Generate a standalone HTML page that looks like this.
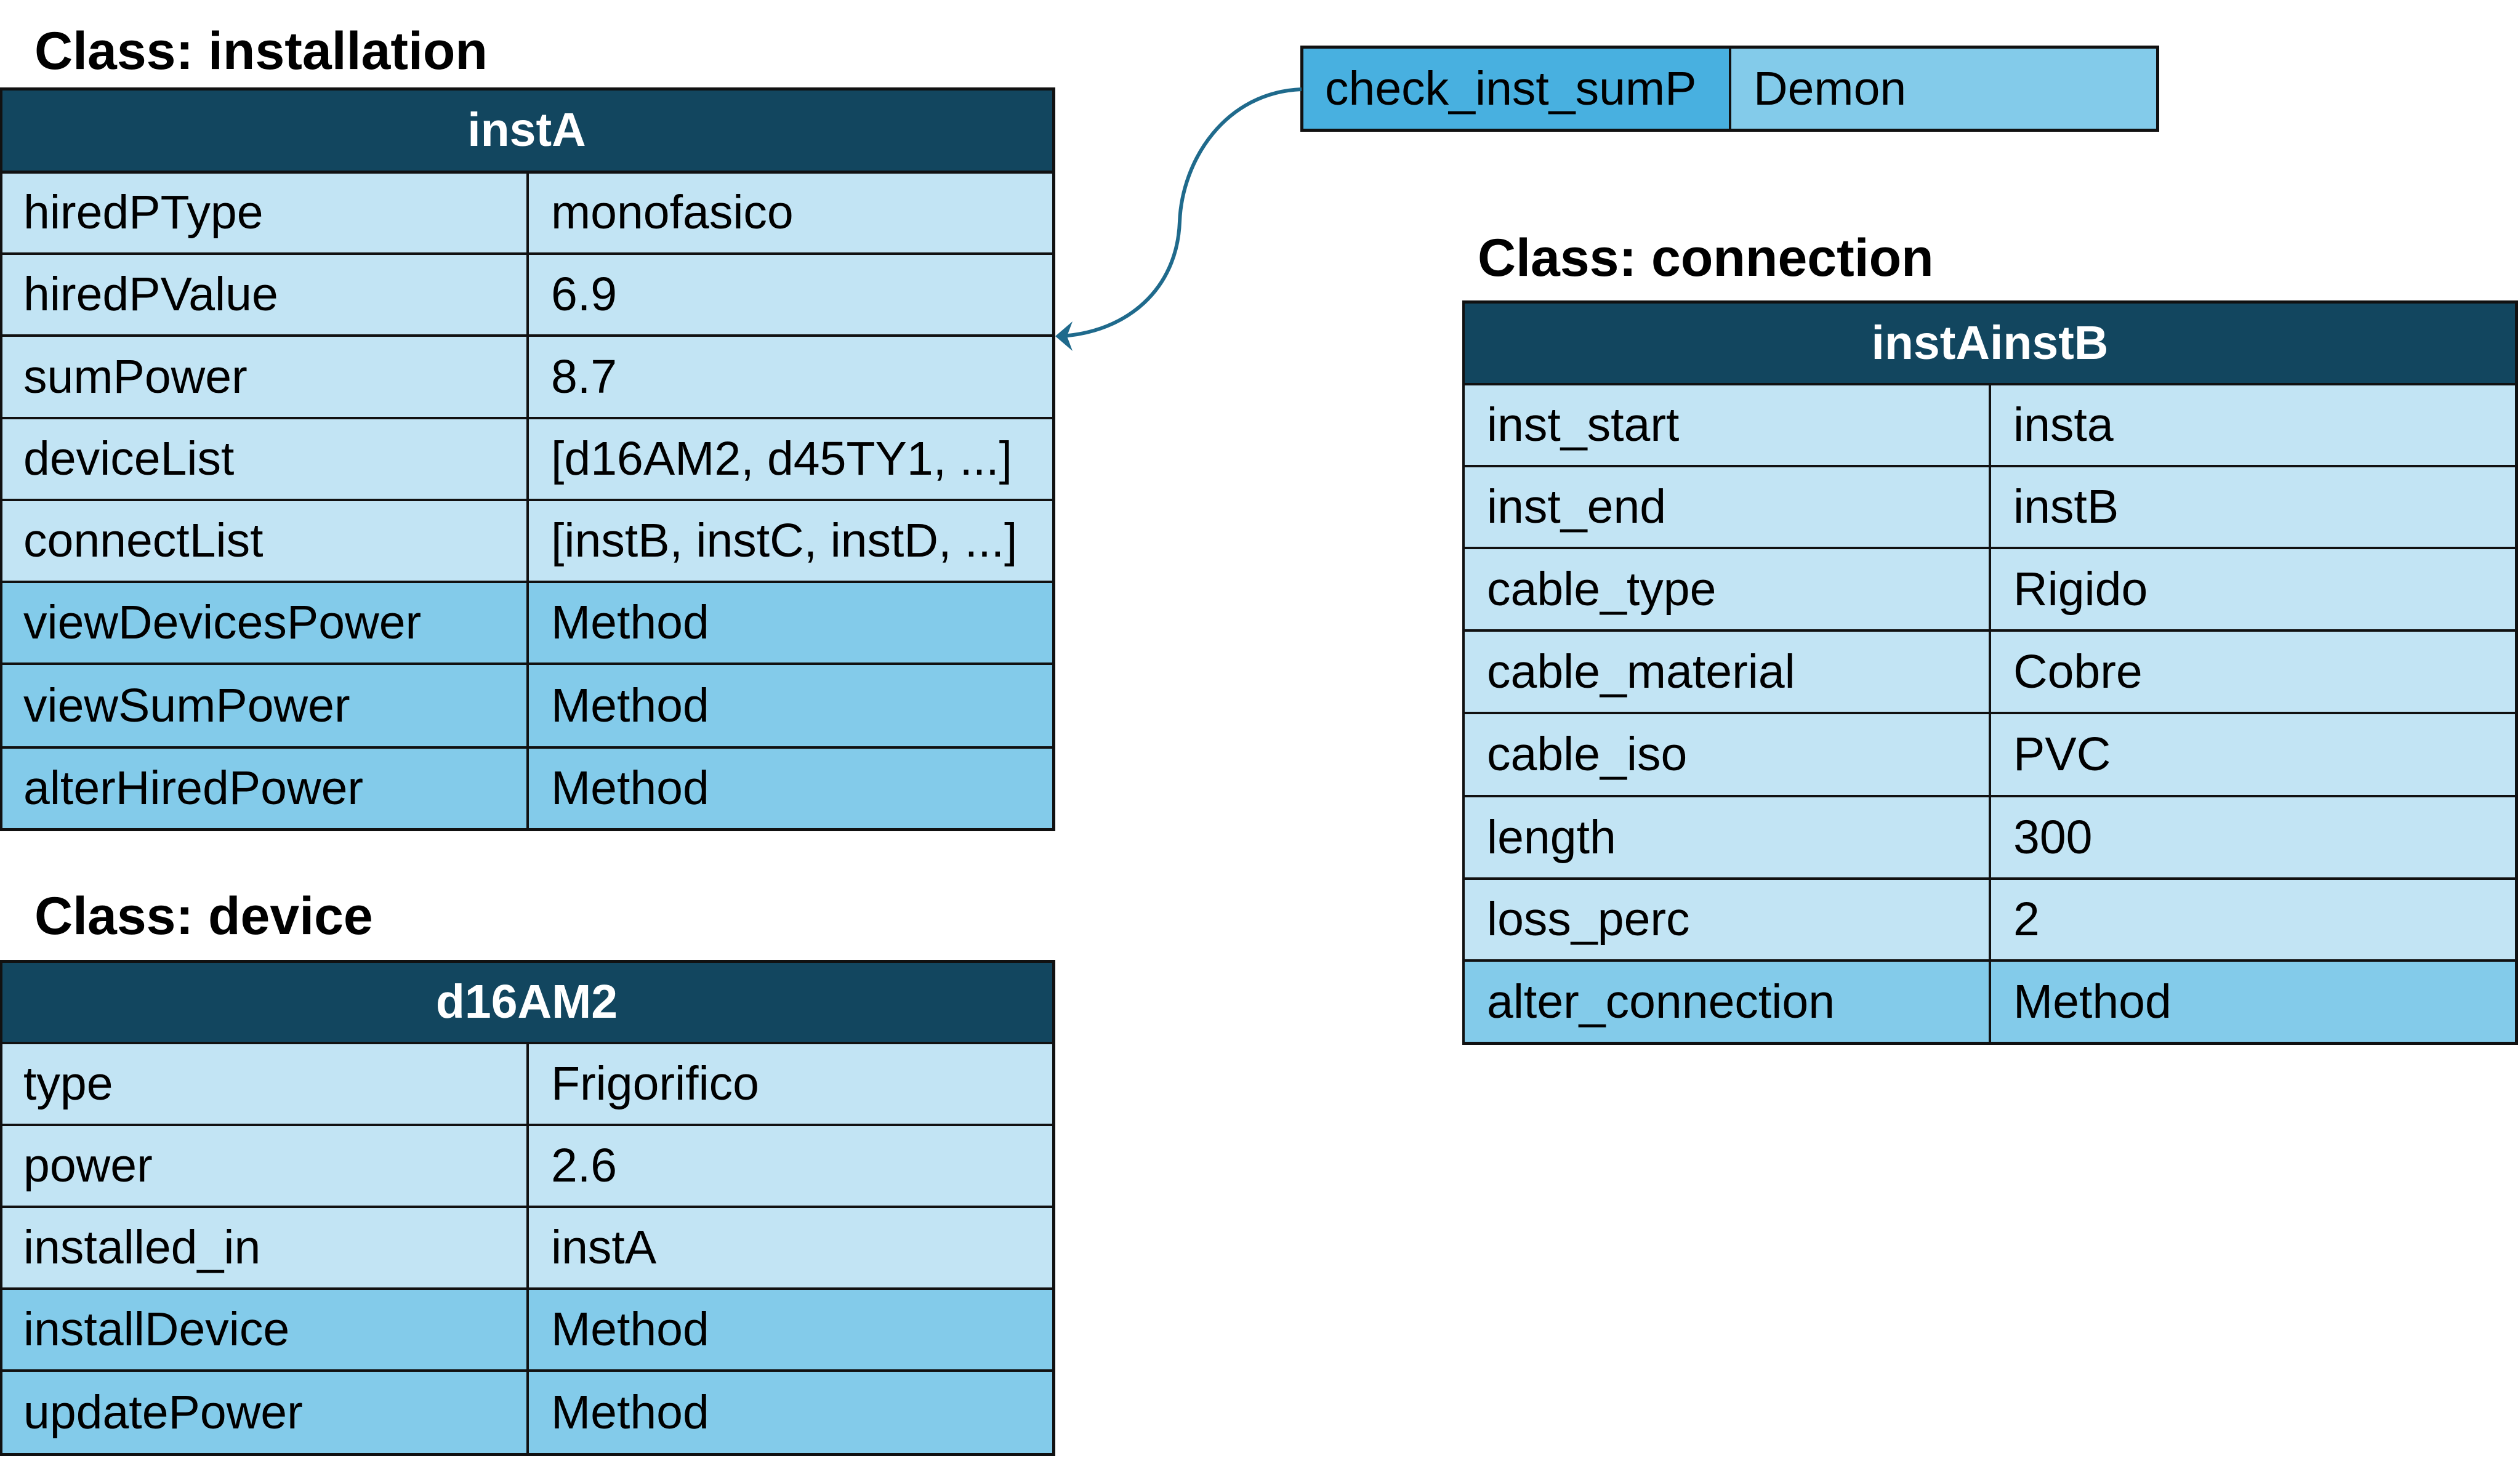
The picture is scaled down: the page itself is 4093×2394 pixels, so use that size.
<!DOCTYPE html>
<html><head><meta charset="utf-8"><style>
html,body{margin:0;width:4093px;height:2394px;overflow:hidden}
body{background:#fff;position:relative;font-family:"Liberation Sans",sans-serif}
div{position:absolute;box-sizing:border-box}
.t{font-weight:bold;font-size:86px;line-height:86px;color:#000;white-space:nowrap}
.c{font-size:77px;color:#000;white-space:nowrap;display:flex;align-items:center;padding-left:38px}
.h{font-size:77px;font-weight:bold;color:#fff;display:flex;align-items:center;justify-content:center;background:#12465f}
.l{background:#c2e4f4}.m{background:#83cbea}.k{background:#48b0e0}
.ln{background:#111}
</style></head><body>
<div class="t" style="left:56px;top:40px">Class: installation</div>
<div class="t" style="left:56px;top:1445px">Class: device</div>
<div class="t" style="left:2400px;top:376px">Class: connection</div>

<!-- installation -->
<div class="h" style="left:0;top:144px;width:1711px;height:135px">instA</div>
<div class="c l" style="left:0;top:279px;width:857px;height:133px">hiredPType</div><div class="c l" style="left:857px;top:279px;width:854px;height:133px">monofasico</div>
<div class="c l" style="left:0;top:412px;width:857px;height:133px">hiredPValue</div><div class="c l" style="left:857px;top:412px;width:854px;height:133px">6.9</div>
<div class="c l" style="left:0;top:545px;width:857px;height:134px">sumPower</div><div class="c l" style="left:857px;top:545px;width:854px;height:134px">8.7</div>
<div class="c l" style="left:0;top:679px;width:857px;height:133px">deviceList</div><div class="c l" style="left:857px;top:679px;width:854px;height:133px">[d16AM2, d45TY1, ...]</div>
<div class="c l" style="left:0;top:812px;width:857px;height:133px">connectList</div><div class="c l" style="left:857px;top:812px;width:854px;height:133px">[instB, instC, instD, ...]</div>
<div class="c m" style="left:0;top:945px;width:857px;height:133px">viewDevicesPower</div><div class="c m" style="left:857px;top:945px;width:854px;height:133px">Method</div>
<div class="c m" style="left:0;top:1078px;width:857px;height:136px">viewSumPower</div><div class="c m" style="left:857px;top:1078px;width:854px;height:136px">Method</div>
<div class="c m" style="left:0;top:1214px;width:857px;height:133px">alterHiredPower</div><div class="c m" style="left:857px;top:1214px;width:854px;height:133px">Method</div>
<div class="ln" style="left:0;top:142px;width:1714px;height:5px"></div>
<div class="ln" style="left:0;top:277px;width:1714px;height:5px"></div>
<div class="ln" style="left:0;top:410px;width:1714px;height:4px"></div>
<div class="ln" style="left:0;top:543px;width:1714px;height:4px"></div>
<div class="ln" style="left:0;top:677px;width:1714px;height:4px"></div>
<div class="ln" style="left:0;top:810px;width:1714px;height:4px"></div>
<div class="ln" style="left:0;top:943px;width:1714px;height:4px"></div>
<div class="ln" style="left:0;top:1076px;width:1714px;height:4px"></div>
<div class="ln" style="left:0;top:1212px;width:1714px;height:4px"></div>
<div class="ln" style="left:0;top:1345px;width:1714px;height:5px"></div>
<div class="ln" style="left:0;top:142px;width:4px;height:1208px"></div>
<div class="ln" style="left:1709px;top:142px;width:5px;height:1208px"></div>
<div class="ln" style="left:855px;top:279px;width:4px;height:1068px"></div>

<!-- device -->
<div class="h" style="left:0;top:1561px;width:1711px;height:133px">d16AM2</div>
<div class="c l" style="left:0;top:1694px;width:857px;height:133px">type</div><div class="c l" style="left:857px;top:1694px;width:854px;height:133px">Frigorifico</div>
<div class="c l" style="left:0;top:1827px;width:857px;height:133px">power</div><div class="c l" style="left:857px;top:1827px;width:854px;height:133px">2.6</div>
<div class="c l" style="left:0;top:1960px;width:857px;height:133px">installed_in</div><div class="c l" style="left:857px;top:1960px;width:854px;height:133px">instA</div>
<div class="c m" style="left:0;top:2093px;width:857px;height:133px">installDevice</div><div class="c m" style="left:857px;top:2093px;width:854px;height:133px">Method</div>
<div class="c m" style="left:0;top:2226px;width:857px;height:136px">updatePower</div><div class="c m" style="left:857px;top:2226px;width:854px;height:136px">Method</div>
<div class="ln" style="left:0;top:1559px;width:1714px;height:5px"></div>
<div class="ln" style="left:0;top:1692px;width:1714px;height:4px"></div>
<div class="ln" style="left:0;top:1825px;width:1714px;height:4px"></div>
<div class="ln" style="left:0;top:1958px;width:1714px;height:4px"></div>
<div class="ln" style="left:0;top:2091px;width:1714px;height:4px"></div>
<div class="ln" style="left:0;top:2224px;width:1714px;height:4px"></div>
<div class="ln" style="left:0;top:2360px;width:1714px;height:5px"></div>
<div class="ln" style="left:0;top:1559px;width:4px;height:806px"></div>
<div class="ln" style="left:1709px;top:1559px;width:5px;height:806px"></div>
<div class="ln" style="left:855px;top:1694px;width:4px;height:668px"></div>

<!-- connection -->
<div class="h" style="left:2377px;top:490px;width:1710px;height:134px">instAinstB</div>
<div class="c l" style="left:2377px;top:624px;width:855px;height:133px">inst_start</div><div class="c l" style="left:3232px;top:624px;width:855px;height:133px">insta</div>
<div class="c l" style="left:2377px;top:757px;width:855px;height:133px">inst_end</div><div class="c l" style="left:3232px;top:757px;width:855px;height:133px">instB</div>
<div class="c l" style="left:2377px;top:890px;width:855px;height:134px">cable_type</div><div class="c l" style="left:3232px;top:890px;width:855px;height:134px">Rigido</div>
<div class="c l" style="left:2377px;top:1024px;width:855px;height:134px">cable_material</div><div class="c l" style="left:3232px;top:1024px;width:855px;height:134px">Cobre</div>
<div class="c l" style="left:2377px;top:1158px;width:855px;height:135px">cable_iso</div><div class="c l" style="left:3232px;top:1158px;width:855px;height:135px">PVC</div>
<div class="c l" style="left:2377px;top:1293px;width:855px;height:134px">length</div><div class="c l" style="left:3232px;top:1293px;width:855px;height:134px">300</div>
<div class="c l" style="left:2377px;top:1427px;width:855px;height:133px">loss_perc</div><div class="c l" style="left:3232px;top:1427px;width:855px;height:133px">2</div>
<div class="c m" style="left:2377px;top:1560px;width:855px;height:134px">alter_connection</div><div class="c m" style="left:3232px;top:1560px;width:855px;height:134px">Method</div>
<div class="ln" style="left:2375px;top:488px;width:1715px;height:5px"></div>
<div class="ln" style="left:2375px;top:622px;width:1715px;height:4px"></div>
<div class="ln" style="left:2375px;top:755px;width:1715px;height:4px"></div>
<div class="ln" style="left:2375px;top:888px;width:1715px;height:4px"></div>
<div class="ln" style="left:2375px;top:1022px;width:1715px;height:4px"></div>
<div class="ln" style="left:2375px;top:1156px;width:1715px;height:4px"></div>
<div class="ln" style="left:2375px;top:1291px;width:1715px;height:4px"></div>
<div class="ln" style="left:2375px;top:1425px;width:1715px;height:4px"></div>
<div class="ln" style="left:2375px;top:1558px;width:1715px;height:4px"></div>
<div class="ln" style="left:2375px;top:1692px;width:1715px;height:5px"></div>
<div class="ln" style="left:2375px;top:488px;width:4px;height:1209px"></div>
<div class="ln" style="left:4085px;top:488px;width:5px;height:1209px"></div>
<div class="ln" style="left:3230px;top:624px;width:4px;height:1070px"></div>

<!-- demon box -->
<div class="c k" style="left:2114px;top:76px;width:696px;height:136px">check_inst_sumP</div>
<div class="c m" style="left:2810px;top:76px;width:695px;height:136px">Demon</div>
<div style="left:2112px;top:74px;width:1395px;height:140px;border:5px solid #111"></div>
<div class="ln" style="left:2808px;top:76px;width:4px;height:136px"></div>

<svg style="position:absolute;left:0;top:0" width="4093" height="2394">
<path d="M2114 145 C1990 150 1920 260 1916 360 C1912 470 1830 540 1722 546" fill="none" stroke="#1f6a8c" stroke-width="6"/>
<path d="M1714 546 L1742 522 L1733 546 L1742 570 Z" fill="#1f6a8c"/>
</svg>
</body></html>
